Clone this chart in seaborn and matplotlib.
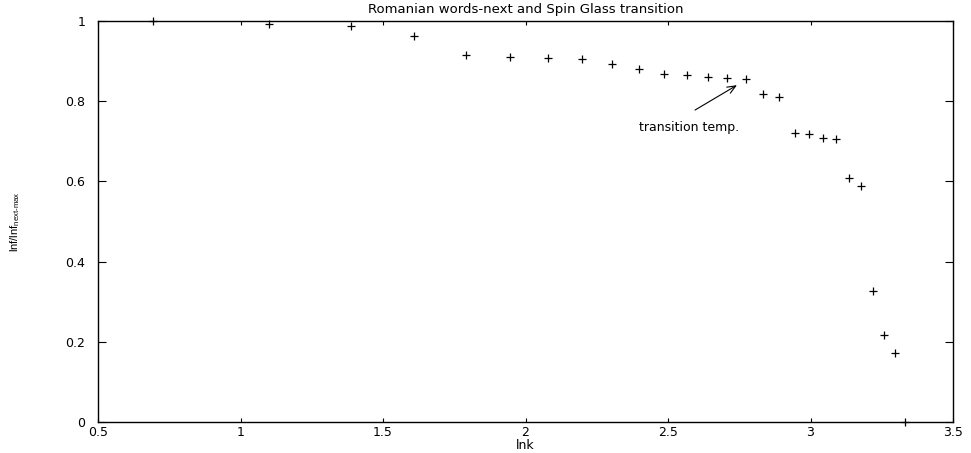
import matplotlib
matplotlib.use('Agg')
import matplotlib.pyplot as plt
import seaborn as sns
import pandas as pd

# ln k values and normalised ln f values
lnk = [0.693, 1.099, 1.386, 1.609, 1.792, 1.946, 2.079, 2.197, 2.303, 2.398,
       2.485, 2.565, 2.639, 2.708, 2.773, 2.833, 2.890, 2.944, 2.996, 3.045,
       3.091, 3.135, 3.178, 3.219, 3.258, 3.296, 3.332]
lnf_ratio = [1.000, 0.992, 0.987, 0.963, 0.915, 0.911, 0.907, 0.905, 0.893, 0.880,
             0.868, 0.865, 0.860, 0.858, 0.855, 0.818, 0.810, 0.720, 0.717, 0.709,
             0.706, 0.608, 0.589, 0.327, 0.218, 0.172, 0.000]

x_ticks = [0.5, 1, 1.5, 2, 2.5, 3, 3.5]
x_tick_labels = ['0.5', '1', '1.5', '2', '2.5', '3', '3.5']
y_ticks = [0, 0.2, 0.4, 0.6, 0.8, 1]
y_tick_labels = ['0', '0.2', '0.4', '0.6', '0.8', '1']

df = pd.DataFrame({'lnk': lnk, 'ratio': lnf_ratio})

sns.set_style('ticks')
plt.rcParams['font.family'] = ['DejaVu Sans']
plt.rcParams['text.color'] = 'black'
plt.rcParams['axes.labelcolor'] = 'black'
plt.rcParams['mathtext.fontset'] = 'custom'
plt.rcParams['mathtext.rm'] = 'Liberation Sans'

fig = plt.figure(figsize=(9.71, 4.53), dpi=100)
ax = fig.add_axes([98 / 971, 31 / 453, 855 / 971, 401 / 453])

sns.scatterplot(data=df, x='lnk', y='ratio', marker='+', color='black',
                s=28, linewidth=0.9, ax=ax, legend=False, clip_on=False)

ax.set_xlim(0.5, 3.5)
ax.set_ylim(0, 1)
ax.set_xticks(x_ticks)
ax.set_xticklabels(x_tick_labels)
ax.set_yticks(y_ticks)
ax.set_yticklabels(y_tick_labels)
ax.tick_params(direction='in', top=True, right=True, width=0.8,
               labelsize=9, colors='black')
ax.tick_params(axis='x', length=3, pad=3)
ax.tick_params(axis='y', length=6, pad=9)
for side in ax.spines.values():
    side.set_linewidth(1.0)
    side.set_color('black')

ax.set_title('Romanian words-next and Spin Glass transition', fontsize=9.5,
             pad=6, color='black')
ax.set_xlabel('lnk', fontsize=9, labelpad=0)
ax.set_ylabel(r'$\mathrm{lnf/lnf}_{\mathrm{next\text{-}max}}$', fontsize=8)
ax.yaxis.set_label_coords(-(98 - 22) / 855, 0.5)

ax.annotate('', xy=(2.742, 0.840), xytext=(2.595, 0.778),
            arrowprops=dict(arrowstyle='->,head_length=0.6,head_width=0.25',
                            color='black', lw=0.8, shrinkA=0, shrinkB=0))
ax.text(2.398, 0.735, 'transition temp.', fontsize=9, va='center', ha='left')

plt.savefig('out.png', dpi=100)
